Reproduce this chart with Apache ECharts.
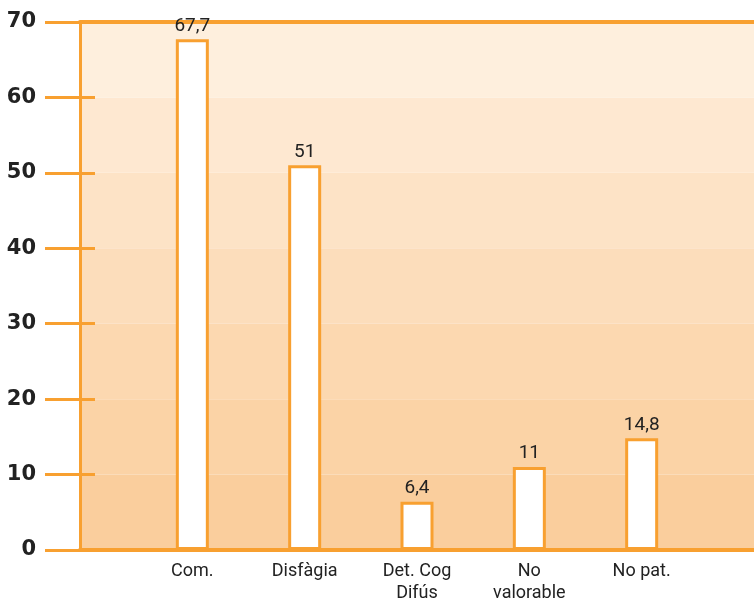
<!DOCTYPE html>
<html>
<head>
<meta charset="utf-8">
<script src="https://cdn.jsdelivr.net/npm/echarts@6/dist/echarts.min.js"></script>
<style>
  html, body { margin: 0; padding: 0; background: #fff; }
  #chart { width: 754px; height: 600px; }
</style>
</head>
<body>
<div id="chart"></div>
<script>
// Categories (empty ends keep the bars spaced evenly across the plot)
const categories = ['', 'Com.', 'Disfàgia', 'Det. Cog\nDifús', 'No\nvalorable', 'No pat.', ''];
const values = ['-', 67.7, 51, 6.4, 11, 14.8, '-'];
const labels = ['', '67,7', '51', '6,4', '11', '14,8', ''];
const yTicks = [0, 10, 20, 30, 40, 50, 60, 70];

const ORANGE = '#F8A030';
const bands = ['#FACE9D', '#FBD3A6', '#FCD8B0', '#FCDDBB', '#FDE3C6', '#FEE8D1', '#FEEFDD'];
const narrow = '"Liberation Sans Narrow", "Roboto", sans-serif';

const chart = echarts.init(document.getElementById('chart'), null, { renderer: 'canvas' });

chart.setOption({
  animation: false,
  grid: { left: 80, right: 0, top: 22, bottom: 50, containLabel: false, outerBoundsMode: 'none' },
  xAxis: [
    {
      type: 'category',
      data: categories,
      boundaryGap: false,
      axisLine: { show: true, onZero: false, lineStyle: { color: ORANGE, width: 4 } },
      axisTick: { show: false },
      axisLabel: {
        color: '#222',
        fontFamily: narrow,
        fontSize: 18,
        lineHeight: 22,
        margin: 10,
        interval: 0
      },
      splitLine: { show: false }
    },
    {
      type: 'category',
      position: 'top',
      data: categories,
      boundaryGap: false,
      axisLine: { show: true, onZero: false, lineStyle: { color: ORANGE, width: 4 } },
      axisTick: { show: false },
      axisLabel: { show: false }
    }
  ],
  yAxis: [
    {
      type: 'value',
      min: yTicks[0],
      max: yTicks[yTicks.length - 1],
      interval: 10,
      axisLine: { show: true, lineStyle: { color: ORANGE, width: 3 } },
      axisTick: { show: true, inside: false, length: 35, lineStyle: { color: ORANGE, width: 3 } },
      axisLabel: {
        color: '#222',
        fontFamily: '"DejaVu Sans", sans-serif',
        fontWeight: 'bold',
        fontSize: 21,
        margin: 44
      },
      splitLine: { show: false },
      splitArea: { show: true, areaStyle: { color: bands } }
    },
    {
      type: 'value',
      position: 'left',
      min: yTicks[0],
      max: yTicks[yTicks.length - 1],
      interval: 10,
      axisLine: { show: false },
      axisTick: { show: true, inside: true, length: 15, lineStyle: { color: ORANGE, width: 3 } },
      axisLabel: { show: false },
      splitLine: { show: false }
    }
  ],
  series: [
    {
      type: 'bar',
      data: values,
      barWidth: 33,
      itemStyle: { color: '#fff', borderColor: ORANGE, borderWidth: 3 },
      label: {
        show: true,
        position: 'top',
        distance: 4,
        color: '#222',
        fontFamily: narrow,
        fontSize: 19,
        formatter: p => labels[p.dataIndex]
      },
      z: 3
    }
  ]
});
</script>
</body>
</html>
